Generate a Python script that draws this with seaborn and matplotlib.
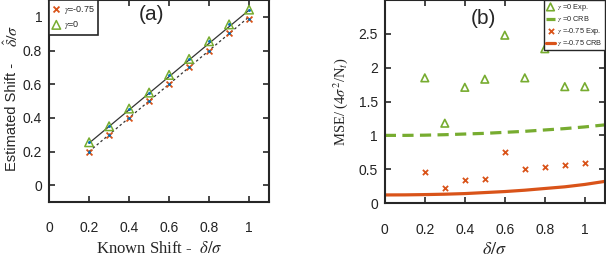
import numpy as np
import pandas as pd
import matplotlib
matplotlib.use("Agg")
import matplotlib.pyplot as plt
import seaborn as sns

sns.set_style("ticks")
plt.rcParams['font.family'] = ['Liberation Sans', 'DejaVu Sans']
plt.rcParams['mathtext.fontset'] = 'stix'

# ---- data ----
known_shift = [0.2, 0.3, 0.4, 0.5, 0.6, 0.7, 0.8, 0.9, 1.0]
est_g075 = [0.196, 0.30, 0.40, 0.50, 0.60, 0.70, 0.80, 0.906, 0.99]
est_g0 = [0.255, 0.35, 0.455, 0.55, 0.655, 0.75, 0.855, 0.955, 1.043]
fit_x = [0.2, 1.0]
fit_g0 = [0.25, 1.04]
fit_g075 = [0.2, 1.0]

mse_g0 = [1.85, 1.18, 1.71, 1.83, 2.48, 1.85, 2.28, 1.72, 1.72]
mse_g075 = [0.46, 0.22, 0.34, 0.35, 0.76, 0.50, 0.53, 0.56, 0.59]
crb_x = [0.0, 0.1, 0.2, 0.3, 0.4, 0.5, 0.6, 0.7, 0.8, 0.9, 1.0, 1.1]
crb_g0 = [1.0, 1.0, 1.003, 1.01, 1.02, 1.03, 1.045, 1.06, 1.08, 1.10, 1.125, 1.155]
crb_g075 = [0.12, 0.121, 0.125, 0.131, 0.14, 0.155, 0.17, 0.19, 0.215, 0.24, 0.275, 0.32]

GREEN = '#77AC30'
ORANGE = '#D95319'
BLUE = '#0072BD'
FRAME = '#262626'

df_a = pd.DataFrame({'x': known_shift, 'g075': est_g075, 'g0': est_g0})
df_b = pd.DataFrame({'x': known_shift, 'g0': mse_g0, 'g075': mse_g075})
df_crb = pd.DataFrame({'x': crb_x, 'g0': crb_g0, 'g075': crb_g075})

fig = plt.figure(figsize=(6.06, 2.6), dpi=100)
ax1 = fig.add_axes([0.081, 0.223, 0.363, 0.777])
ax2 = fig.add_axes([0.635, 0.219, 0.363, 0.781])


def style_axes(ax):
    for s in ax.spines.values():
        s.set_color(FRAME)
        s.set_linewidth(1.5)
    ax.tick_params(direction='in', length=4, width=1.2, color=FRAME,
                   top=True, right=True, labelsize=10, labelcolor='#222222')
    ax.tick_params(axis='x', pad=14)
    ax.tick_params(axis='y', pad=5)


# ---- panel (a) ----
ax1.plot(fit_x, fit_g0, color='#333333', lw=0.9, ls='-')
ax1.plot(fit_x, fit_g075, color='#333333', lw=0.9, ls=(0, (2, 2)))
sns.scatterplot(data=df_a, x='x', y='g075', marker='x', color=ORANGE, s=18,
                linewidth=1.3, ax=ax1, label=r'$\gamma$=-0.75', zorder=3)
ax1.scatter(df_a['x'], df_a['g0'], marker='^', s=38, facecolors='none',
            edgecolors=GREEN, linewidths=1.1, label=r'$\gamma$=0', zorder=3)
ax1.scatter(df_a['x'], df_a['g075'], marker='o', s=1.2, color=BLUE, zorder=4)
ax1.scatter(df_a['x'], df_a['g0'], marker='o', s=1.2, color=BLUE, zorder=4)
ax1.set_xlim(0, 1.1)
ax1.set_ylim(-0.1, 1.1)
ax1.set_xticks([0, 0.2, 0.4, 0.6, 0.8, 1])
ax1.set_xticklabels(['0', '0.2', '0.4', '0.6', '0.8', '1'])
ax1.set_yticks([0, 0.2, 0.4, 0.6, 0.8, 1])
ax1.set_yticklabels(['0', '0.2', '0.4', '0.6', '0.8', '1'])
ax1.set_xlabel(r'Known Shift -  $\delta/\sigma$', family='Liberation Serif',
               fontsize=12, labelpad=4)
ax1.set_ylabel('')
# y label in two pieces: sans text + serif math
ax1.text(-0.168, 0.155, 'Estimated Shift -', rotation=90, fontsize=10.5,
         ha='center', va='bottom', transform=ax1.transAxes)
ax1.text(-0.168, 0.765, r'$\hat{\delta}/\sigma$', rotation=90, fontsize=11.5,
         ha='center', va='bottom', transform=ax1.transAxes)
style_axes(ax1)
leg = ax1.legend(loc='upper left', fontsize=6.5, handlelength=0.8,
                 handletextpad=0.4, borderpad=0.4, labelspacing=0.4,
                 fancybox=False, framealpha=1, borderaxespad=0)
leg.get_frame().set_edgecolor(FRAME)
leg.get_frame().set_linewidth(1.2)
ax1.text(0.465, 0.93, '(a)', transform=ax1.transAxes, fontsize=15,
         ha='center', va='center')

# ---- panel (b) ----
ax2.scatter(df_b['x'], df_b['g0'], marker='^', s=30, facecolors='none',
            edgecolors=GREEN, linewidths=1.2, label=r'$\gamma$ =0 Exp.', zorder=3)
sns.lineplot(data=df_crb, x='x', y='g0', color=GREEN, lw=2.3, ls=(0, (3.5, 2)),
             ax=ax2, label=r'$\gamma$ =0 CRB')
sns.scatterplot(data=df_b, x='x', y='g075', marker='x', color=ORANGE, s=14,
                linewidth=1.3, ax=ax2, label=r'$\gamma$ =-0.75 Exp.', zorder=3)
sns.lineplot(data=df_crb, x='x', y='g075', color=ORANGE, lw=2.3, ax=ax2,
             label=r'$\gamma$ =-0.75 CRB')
ax2.set_xlim(0, 1.1)
ax2.set_ylim(0, 3.0)
ax2.set_xticks([0, 0.2, 0.4, 0.6, 0.8, 1])
ax2.set_xticklabels(['0', '0.2', '0.4', '0.6', '0.8', '1'])
ax2.set_yticks([0, 0.5, 1, 1.5, 2, 2.5])
ax2.set_yticklabels(['0', '0.5', '1', '1.5', '2', '2.5'])
ax2.set_xlabel(r'$\delta/\sigma$', fontsize=13, labelpad=3)
ax2.set_ylabel(r'MSE/ (4$\sigma^2$/N$_t$)', family='Liberation Serif',
               fontsize=10.5, labelpad=6)
style_axes(ax2)
leg2 = ax2.legend(loc='upper right', fontsize=5.3, handlelength=1.3,
                  handletextpad=0.3, borderpad=0.25, labelspacing=0.2,
                  fancybox=False, framealpha=1, borderaxespad=0)
leg2.get_frame().set_edgecolor(FRAME)
leg2.get_frame().set_linewidth(1.0)
ax2.text(0.45, 0.91, '(b)', transform=ax2.transAxes, fontsize=15,
         ha='center', va='center')

fig.savefig('out.png', dpi=100)
